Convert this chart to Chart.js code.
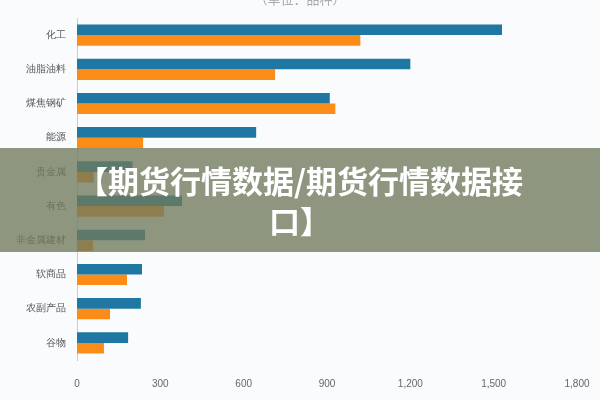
<!DOCTYPE html>
<html lang="zh">
<head>
  <meta charset="UTF-8">
  <script src="https://cdn.jsdelivr.net/npm/chart.js"></script>
  <style>
    body { margin: 0; background: #f9fbfc; font-family: 'Noto Sans CJK SC', sans-serif; }
    #wrap { position: relative; width: 600px; height: 400px; overflow: hidden; }
    #unit { position: absolute; top: -11px; left: 0; width: 600px; text-align: center; color: #aaa; font-size: 13px; }
    #banner {
      position: absolute; left: 0; top: 148px; width: 600px; height: 104px;
      background: rgba(112, 122, 92, 0.78); color: #fff; font-weight: bold;
      font-size: 31px; line-height: 40px; text-align: center; padding-top: 12px; box-sizing: border-box;
    }
  </style>
</head>
<body>
  <div id="wrap">
    <canvas id="c" width="600" height="400"></canvas>
    <div id="unit">（单位：品种）</div>
    <div id="banner">【期货行情数据/期货行情数据接<br>口】</div>
  </div>
  <script>
    const categories = ["化工", "油脂油料", "煤焦钢矿", "能源", "贵金属", "有色", "非金属建材", "软商品", "农副产品", "谷物"];
    const seriesA = [1530, 1200, 910, 645, 200, 378, 245, 234, 230, 184];
    const seriesB = [1020, 713, 930, 238, 60, 313, 58, 180, 119, 97];
    const ticks = [0, 300, 600, 900, 1200, 1500, 1800];

    new Chart(document.getElementById("c"), {
      type: "bar",
      data: {
        labels: categories,
        datasets: [
          { label: "A", data: seriesA, backgroundColor: "#1f78a3", categoryPercentage: 0.62, barPercentage: 1 },
          { label: "B", data: seriesB, backgroundColor: "#fb8c17", categoryPercentage: 0.62, barPercentage: 1 }
        ]
      },
      options: {
        indexAxis: "y",
        responsive: false,
        animation: false,
        layout: { padding: { top: 18, right: 23, bottom: 0, left: 0 } },
        plugins: { legend: { display: false }, tooltip: { enabled: false } },
        scales: {
          x: {
            min: 0, max: 1800,
            afterBuildTicks: s => { s.ticks = ticks.map(v => ({ value: v })); },
            grid: { display: false },
            border: { display: false },
            ticks: { color: "#666", font: { size: 10 }, padding: 10 }
          },
          y: {
            grid: { display: false },
            border: { color: "#ccc" },
            afterFit: s => { s.width = 77; },
            ticks: { color: "#555", font: { size: 10 } }
          }
        }
      }
    });
  </script>
</body>
</html>
